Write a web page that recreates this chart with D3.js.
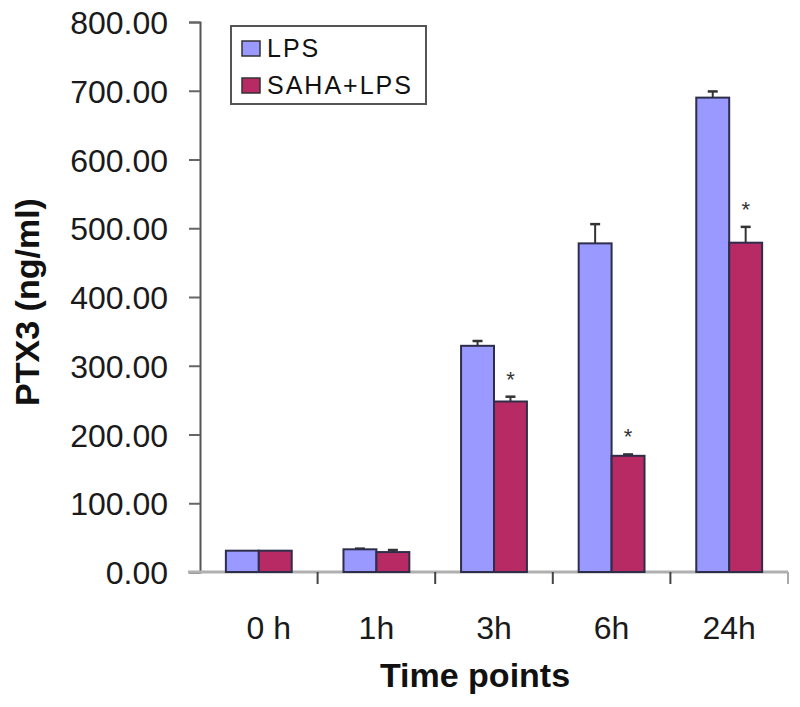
<!DOCTYPE html>
<html>
<head>
<meta charset="utf-8">
<script src="https://cdn.jsdelivr.net/npm/d3@7"></script>
<style>
  body { margin: 0; background: #fff; }
  svg { display: block; }
</style>
</head>
<body>
<svg id="chart" width="800" height="707"></svg>
<script>
const categories = ["0 h", "1h", "3h", "6h", "24h"];
const seriesNames = ["LPS", "SAHA+LPS"];
const lpsValues = [31, 33, 329, 478, 690];
const lpsErrors = [0, 1, 7, 28, 9];
const sahaValues = [31, 29, 248, 169, 479];
const sahaErrors = [0, 3, 7, 2, 23];
const sahaSignificant = [false, false, true, true, true];
const yTicks = [0, 100, 200, 300, 400, 500, 600, 700, 800];
const colors = ["#9999ff", "#b72a64"];

const svg = d3.select("#chart");
const mLeft = 200, mRight = 788, mTop = 22, mBottom = 572;

const x = d3.scaleBand().domain(categories).range([mLeft, mRight]).padding(0);
const y = d3.scaleLinear().domain([0, 800]).range([mBottom, mTop]);
const barW = x.bandwidth() * 0.28;

const fontFam = "Arial, 'Liberation Sans', Helvetica, sans-serif";

// Y axis
const yAxis = d3.axisLeft(y).tickValues(yTicks).tickFormat(d3.format(".2f")).tickSize(11).tickPadding(21);
const yg = svg.append("g").attr("transform", `translate(${mLeft},0)`).call(yAxis);
yg.select(".domain").attr("stroke", "#555").attr("stroke-width", 2);
yg.selectAll(".tick line").attr("stroke", "#666").attr("stroke-width", 2);
yg.selectAll(".tick text").attr("font-family", fontFam).attr("font-size", 32)
  .attr("fill", "#1a1a1a").attr("dy", "0.36em");

// X axis
const xAxis = d3.axisBottom(x).tickSize(0).tickPadding(44);
const xg = svg.append("g").attr("transform", `translate(0,${mBottom})`).call(xAxis);
xg.select(".domain").remove();
xg.selectAll(".tick text").attr("font-family", fontFam).attr("font-size", 32).attr("fill", "#1a1a1a")
  .attr("dx", (d, i) => i === 0 ? 10 : 0);
svg.append("line").attr("x1", mLeft - 12).attr("x2", mRight).attr("y1", mBottom).attr("y2", mBottom)
  .attr("stroke", "#b0b0b0").attr("stroke-width", 3);
// category separator ticks
const sepPositions = categories.map(c => x(c) + x.bandwidth());
svg.selectAll(".sep").data(sepPositions).enter().append("line")
  .attr("x1", d => d).attr("x2", d => d).attr("y1", mBottom).attr("y2", mBottom + 12)
  .attr("stroke", (d, i) => i === categories.length - 1 ? "#aaa" : "#444").attr("stroke-width", 2);

// Bars
const data = categories.map((c, i) => ({
  c,
  bars: [
    { s: 0, v: lpsValues[i], e: lpsErrors[i] },
    { s: 1, v: sahaValues[i], e: sahaErrors[i], sig: sahaSignificant[i] }
  ]
}));

const groups = svg.selectAll(".grp").data(data).enter().append("g");
groups.each(function(d) {
  const g = d3.select(this);
  const cx = x(d.c) + x.bandwidth() / 2;
  d.bars.forEach(b => {
    const bx = cx - barW + b.s * barW;
    if (b.e > 0) {
      const cxBar = bx + barW / 2;
      g.append("line").attr("x1", cxBar).attr("x2", cxBar)
        .attr("y1", y(b.v)).attr("y2", y(b.v + b.e)).attr("stroke", "#333").attr("stroke-width", 2);
      g.append("line").attr("x1", cxBar - 5).attr("x2", cxBar + 5)
        .attr("y1", y(b.v + b.e)).attr("y2", y(b.v + b.e)).attr("stroke", "#333").attr("stroke-width", 2.5);
    }
    g.append("rect").attr("x", bx).attr("y", y(b.v)).attr("width", barW).attr("height", y(0) - y(b.v))
      .attr("fill", colors[b.s]).attr("stroke", "#2e2e4a").attr("stroke-width", 2);
    if (b.sig) {
      g.append("text").attr("x", bx + barW / 2).attr("y", y(b.v + b.e) - 10)
        .attr("text-anchor", "middle").attr("font-family", fontFam).attr("font-size", 22)
        .attr("fill", "#333").text("*");
    }
  });
});

// Legend
const lg = svg.append("g");
lg.append("rect").attr("x", 231).attr("y", 26).attr("width", 195).attr("height", 78)
  .attr("fill", "#fff").attr("stroke", "#555").attr("stroke-width", 2);
seriesNames.forEach((n, i) => {
  const yy = 41 + i * 37;
  lg.append("rect").attr("x", 242).attr("y", yy).attr("width", 18).attr("height", 15)
    .attr("fill", colors[i]).attr("stroke", "#333").attr("stroke-width", 1.5);
  lg.append("text").attr("x", 267).attr("y", yy + 16).attr("font-family", fontFam)
    .attr("font-size", 25).attr("letter-spacing", "2").attr("fill", "#111").text(n);
});

// Axis titles
svg.append("text").attr("transform", "translate(39,302) rotate(-90)")
  .attr("text-anchor", "middle").attr("font-family", fontFam).attr("font-weight", "bold")
  .attr("font-size", 34).attr("fill", "#111").text("PTX3 (ng/ml)");
svg.append("text").attr("x", 475).attr("y", 687).attr("text-anchor", "middle")
  .attr("font-family", fontFam).attr("font-weight", "bold").attr("font-size", 34)
  .attr("fill", "#111").text("Time points");
</script>
</body>
</html>
